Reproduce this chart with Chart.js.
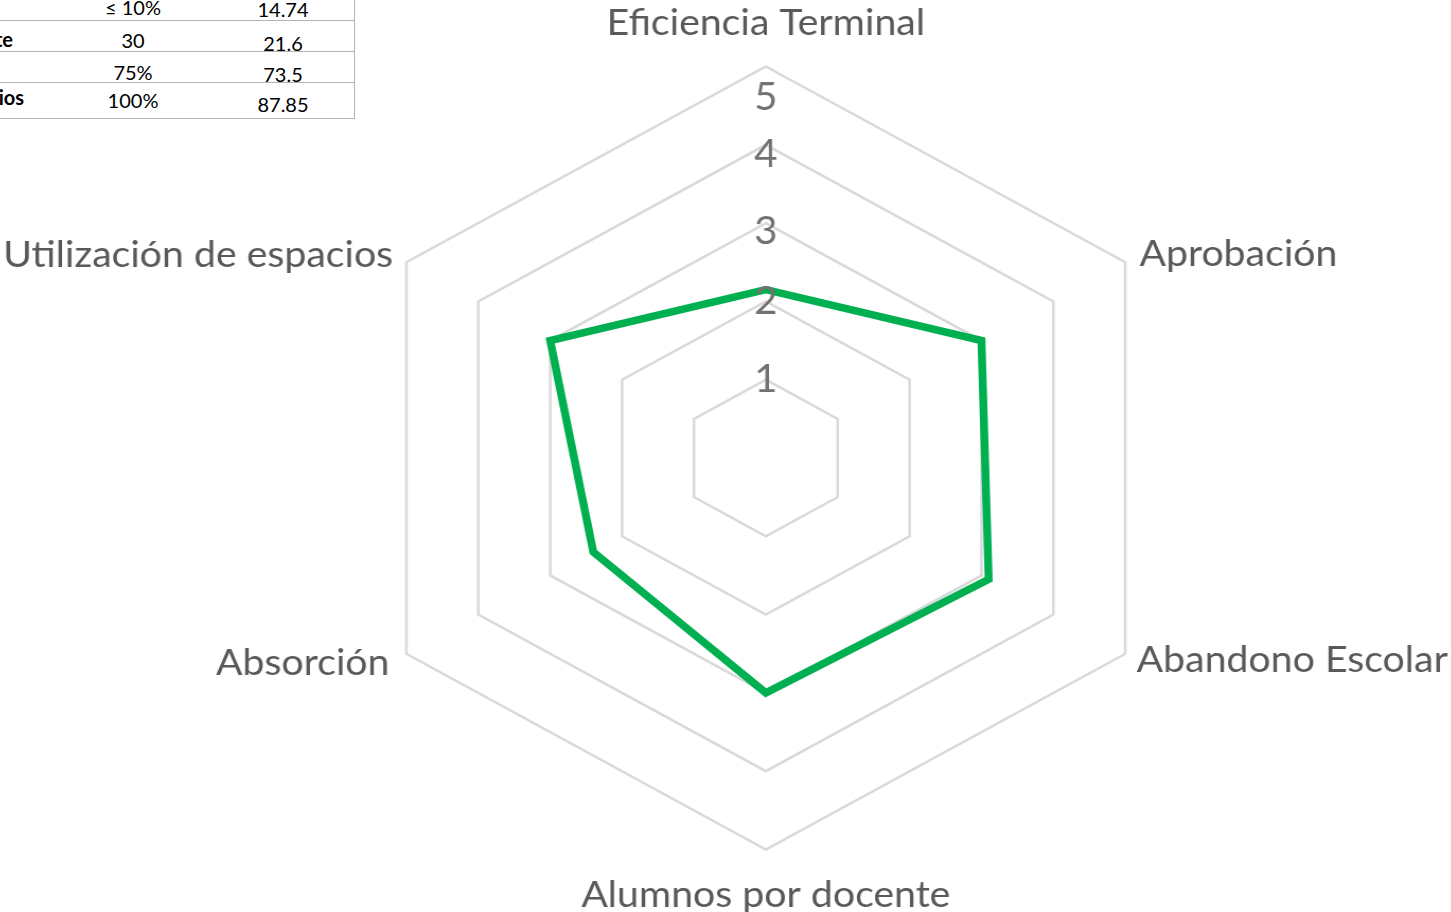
<!DOCTYPE html>
<html>
<head>
<meta charset="utf-8">
<script src="https://cdn.jsdelivr.net/npm/chart.js@4.4.1/dist/chart.umd.min.js"></script>
<style>
  html, body { margin: 0; padding: 0; width: 1451px; height: 912px; overflow: hidden; background: #ffffff; }
  #wrap { position: absolute; left: -26.5px; top: 0; width: 1495px; height: 912px; transform: scaleX(1.06); transform-origin: 0 0; }
  #tbl { position: absolute; left: 0; top: 0; width: 360px; height: 125px; font-family: Lato, "Open Sans", sans-serif; font-size: 20px; line-height: 20px; color: #000; }
  .hl { position: absolute; left: 0; width: 355px; height: 0; border-top: 1px solid #b4b4b4; }
  .vl { position: absolute; left: 354px; top: 0; width: 0; height: 119px; border-left: 1px solid #b4b4b4; }
  .c1, .c2 { position: absolute; width: 120px; text-align: center; white-space: nowrap; }
  .c1 { left: 73px; }
  .c2 { left: 223px; }
  .lb { position: absolute; text-align: right; font-weight: bold; white-space: nowrap; }
</style>
</head>
<body>
<div id="tbl"></div>
<div id="wrap"><canvas id="chart" width="1495" height="912"></canvas></div>
<script>
// ---- data ----
const categories = ['Eficiencia Terminal', 'Aprobación', 'Abandono Escolar', 'Alumnos por docente', 'Absorción', 'Utilización de espacios'];
const seriesValues = [2.15, 3.0, 3.1, 3.0, 2.4, 3.0];
const tickLabels = ['1', '2', '3', '4', '5'];
const tableRowLabels = ['', 'te', '', 'ios'];
const tableCol1 = ['\u2264 10%', '30', '75%', '100%'];
const tableCol2 = ['14.74', '21.6', '73.5', '87.85'];

// ---- table fragment (top-left) ----
(function buildTable() {
  const t = document.getElementById('tbl');
  const lineY = [20, 51, 82, 118];
  lineY.forEach(y => { const d = document.createElement('div'); d.className = 'hl'; d.style.top = y + 'px'; t.appendChild(d); });
  const v = document.createElement('div'); v.className = 'vl'; t.appendChild(v);
  const base1 = [15, 48, 80, 108];
  const base2 = [17, 51, 81.5, 111.5];
  const baseL = [15, 47, 80, 105];
  const rightL = [0, 13, 0, 24];
  for (let i = 0; i < tableCol1.length; i++) {
    const a = document.createElement('div'); a.className = 'c1'; a.textContent = tableCol1[i]; a.style.top = (base1[i] - 17.7) + 'px'; t.appendChild(a);
    const b = document.createElement('div'); b.className = 'c2'; b.textContent = tableCol2[i]; b.style.top = (base2[i] - 17.7) + 'px'; t.appendChild(b);
    if (tableRowLabels[i]) {
      const l = document.createElement('div'); l.className = 'lb'; l.textContent = tableRowLabels[i];
      l.style.top = (baseL[i] - 17.7) + 'px'; l.style.right = (360 - rightL[i]) + 'px'; t.appendChild(l);
    }
  }
})();

// ---- radar chart ----
const labelPadding = [28, 0.5, -2.5, 30.5, 3.5, -0.5];
const tickShift = { 3: '9px', 4: '10px', 5: '31px' };
const tickFamily = 'Lato, "Open Sans", sans-serif';
new Chart(document.getElementById('chart'), {
  type: 'radar',
  data: {
    labels: categories,
    datasets: [{
      data: seriesValues,
      borderColor: '#00b050',
      borderWidth: 7.5,
      borderJoinStyle: 'miter',
      pointRadius: 0,
      pointHoverRadius: 0,
      fill: false,
      tension: 0
    }]
  },
  options: {
    responsive: false,
    animation: false,
    layout: { padding: { top: 23, bottom: 16, left: 0, right: 0 } },
    plugins: { legend: { display: false }, tooltip: { enabled: false } },
    scales: {
      r: {
        min: 0,
        max: 5,
        angleLines: { display: false },
        grid: { color: '#d9d9d9', lineWidth: 2.5, circular: false },
        ticks: {
          stepSize: 1,
          z: 1,
          color: '#767171',
          showLabelBackdrop: false,
          backdropPadding: -4,
          font: (ctx) => {
            const v = ctx.tick ? ctx.tick.value : null;
            return { family: tickFamily, size: 38, lineHeight: (v !== null && tickShift[v]) ? tickShift[v] : 1.2 };
          },
          callback: (value) => {
            if (value === 0) return '';
            const txt = tickLabels[value - 1];
            return tickShift[value] ? ['', txt] : txt;
          }
        },
        pointLabels: {
          color: '#595959',
          font: { family: 'Lato, "Open Sans", sans-serif', size: 37, lineHeight: 0 },
          padding: (ctx) => labelPadding[ctx.index]
        }
      }
    }
  }
});
</script>
</body>
</html>
